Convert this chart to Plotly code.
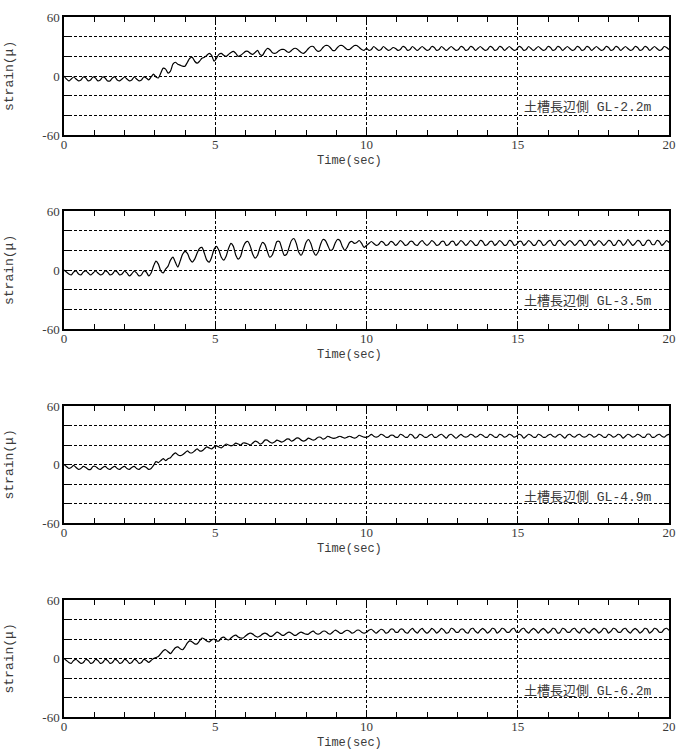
import numpy as np
import plotly.graph_objects as go

# ---------------- data (strain in micro, sampled every 0.08 s from 0 to 20 s) ----------------
dt = 0.08
n_samples = 251
time_sec = np.round(np.arange(n_samples) * dt, 2)

labels = ["土槽長辺側 GL-2.2m", "土槽長辺側 GL-3.5m", "土槽長辺側 GL-4.9m", "土槽長辺側 GL-6.2m"]
x_tick_vals = [0, 5, 10, 15, 20]
x_tick_text = ["0", "5", "10", "15", "20"]
y_tick_vals = [-60, 0, 60]
y_tick_text = ["-60", "0", "60"]

gl22 = (
    [0, -3, -5, -3, -1, -3, -5, -4, -1, -2, -5, -4, -1, -2, -5, -4, -1, -2, -5, -5, -2, -1, -4, -5, -3]
    + [-1, -3, -5, -4, -1, -3, -5, -4, -1, -2, -4, -1, 2, -1, -2, 3, 8, 7, 3, 5, 12, 14, 12, 11, 10]
    + [10, 14, 18, 19, 15, 13, 15, 18, 19, 21, 23, 21, 15, 18, 22, 23, 21, 20, 22, 24, 25, 23, 20, 21, 23]
    + [25, 25, 23, 22, 24, 26, 22, 21, 25, 28, 27, 24, 23, 24, 26, 27, 27, 25, 24, 26, 28, 28, 26, 24, 23]
    + [25, 28, 30, 30, 27, 25, 26, 29, 31, 31, 29, 26, 26, 29, 31, 31, 29, 27, 27, 29, 31, 31, 29, 27, 26]
    + [28, 26, 27, 30, 28, 26, 27, 30, 28, 26, 27, 29, 28, 26, 27, 30, 29, 26, 27, 30, 28, 26, 28, 30, 28]
    + [26, 27, 30, 29, 26, 27, 30, 28, 26, 28, 30, 28, 26, 27, 30, 29, 26, 27, 30, 29, 26, 28, 30, 28, 26]
    + [27, 30, 29, 26, 27, 30, 29, 26, 28, 30, 28, 26, 27, 30, 29, 26, 27, 30, 28, 26, 28, 30, 28, 26, 27]
    + [30, 29, 26, 27, 30, 29, 26, 28, 30, 28, 26, 27, 30, 29, 26, 27, 30, 29, 26, 28, 30, 28, 26, 27, 30]
    + [29, 26, 27, 30, 29, 26, 28, 30, 28, 26, 27, 30, 29, 26, 27, 30, 29, 26, 28, 30, 28, 26, 27, 30, 29]
    + [27]
)

gl35 = (
    [0, -2, -4, -5, -2, -1, -4, -5, -2, -1, -3, -5, -3, -1, -3, -5, -4, -1, -2, -5, -4, -1, -2, -5, -4]
    + [-1, -3, -6, -4, -1, -3, -6, -5, -1, -2, -6, -3, 4, 9, 6, -1, -3, 1, 4, 10, 13, 8, 3, 9, 16]
    + [19, 17, 11, 8, 11, 17, 22, 23, 17, 10, 8, 13, 21, 24, 20, 13, 10, 14, 22, 27, 24, 15, 11, 14, 23]
    + [28, 29, 24, 16, 12, 15, 23, 28, 26, 19, 13, 15, 22, 29, 29, 22, 15, 16, 23, 30, 32, 27, 18, 15, 20]
    + [28, 31, 27, 19, 15, 18, 26, 31, 30, 25, 20, 21, 27, 31, 30, 24, 20, 23, 28, 29, 27, 28, 30, 27, 23]
    + [25, 27, 29, 27, 25, 26, 29, 28, 25, 26, 29, 28, 25, 27, 30, 28, 25, 26, 29, 29, 26, 25, 28, 30, 27]
    + [25, 27, 30, 28, 25, 26, 29, 29, 25, 26, 29, 29, 25, 27, 30, 28, 25, 27, 30, 28, 25, 26, 30, 29, 25]
    + [26, 29, 29, 25, 27, 30, 28, 25, 26, 30, 29, 25, 26, 29, 29, 25, 27, 30, 28, 25, 26, 30, 29, 25, 26]
    + [29, 30, 26, 25, 29, 30, 27, 25, 28, 30, 28, 25, 27, 30, 29, 25, 26, 30, 29, 25, 27, 30, 28, 25, 27]
    + [30, 29, 25, 26, 30, 29, 25, 27, 31, 28, 25, 27, 30, 29, 25, 26, 30, 30, 26, 26, 30, 29, 25, 27, 30]
    + [28]
)

gl49 = (
    [0, -2, -4, -3, -1, -3, -5, -4, -2, -3, -5, -5, -2, -2, -4, -5, -3, -2, -4, -5, -3, -2, -4, -5, -3]
    + [-2, -4, -5, -3, -2, -4, -5, -3, -2, -3, -5, -4, -1, 3, 2, 4, 6, 4, 6, 7, 10, 12, 10, 9, 10]
    + [12, 14, 12, 12, 14, 16, 14, 14, 16, 18, 17, 16, 18, 19, 18, 17, 19, 21, 20, 19, 20, 22, 21, 20, 22]
    + [22, 21, 20, 22, 24, 23, 21, 22, 25, 25, 23, 22, 23, 25, 24, 23, 24, 26, 26, 24, 25, 27, 27, 25, 24]
    + [25, 27, 26, 25, 26, 28, 28, 26, 27, 29, 28, 27, 27, 28, 29, 28, 27, 28, 29, 28, 27, 28, 30, 29, 28]
    + [28, 29, 31, 29, 28, 29, 31, 30, 28, 28, 30, 30, 28, 28, 31, 30, 28, 28, 31, 30, 27, 28, 31, 30, 28]
    + [28, 30, 31, 28, 28, 30, 31, 29, 27, 30, 31, 29, 27, 29, 31, 29, 28, 29, 31, 30, 28, 29, 31, 30, 28]
    + [28, 31, 30, 28, 28, 31, 30, 28, 29, 31, 30, 28, 29, 31, 30, 27, 29, 31, 30, 28, 28, 31, 30, 28, 28]
    + [30, 31, 29, 28, 30, 31, 29, 27, 30, 31, 29, 28, 30, 31, 29, 28, 29, 31, 30, 28, 29, 31, 30, 28, 28]
    + [31, 30, 28, 29, 31, 30, 27, 29, 31, 30, 28, 29, 31, 30, 28, 28, 31, 31, 28, 28, 30, 31, 29, 28, 30]
    + [31]
)

gl62 = (
    [0, -2, -4, -5, -2, -1, -3, -5, -4, -1, -2, -5, -4, -1, -2, -5, -4, -1, -2, -5, -4, -1, -2, -5, -4]
    + [-1, -2, -5, -4, -1, -2, -5, -4, -1, -2, -4, -2, 0, 1, 2, 5, 8, 9, 7, 5, 8, 11, 12, 10, 9]
    + [12, 16, 18, 17, 15, 15, 18, 21, 20, 18, 17, 19, 20, 18, 18, 21, 22, 20, 19, 21, 23, 24, 22, 21, 21]
    + [23, 25, 26, 25, 23, 22, 23, 25, 26, 25, 23, 23, 25, 27, 26, 24, 24, 26, 27, 26, 24, 24, 26, 27, 26]
    + [25, 25, 27, 28, 26, 25, 26, 28, 28, 26, 25, 27, 29, 28, 26, 26, 28, 29, 28, 26, 27, 29, 29, 27, 26]
    + [27, 29, 30, 28, 26, 28, 30, 29, 26, 27, 30, 30, 27, 27, 30, 30, 27, 26, 29, 31, 28, 26, 29, 31, 28]
    + [26, 28, 31, 29, 26, 28, 31, 29, 26, 27, 31, 30, 27, 27, 30, 30, 27, 26, 30, 31, 28, 26, 29, 31, 29]
    + [26, 28, 31, 30, 26, 28, 31, 30, 27, 27, 30, 31, 27, 27, 30, 31, 28, 26, 29, 31, 29, 26, 29, 31, 29]
    + [26, 28, 31, 30, 26, 27, 31, 30, 27, 27, 30, 31, 28, 26, 30, 31, 28, 26, 29, 31, 29, 26, 28, 31, 30]
    + [26, 28, 31, 30, 27, 27, 30, 31, 28, 26, 29, 31, 29, 26, 28, 31, 30, 26, 28, 31, 30, 27, 27, 30, 31]
    + [29]
)

series = [gl22, gl35, gl49, gl62]
for s in series:
    assert len(s) == n_samples, len(s)

# ---------------- layout ----------------
W, H = 685, 754
x_left, x_right = 64, 669
panel_px = [(17, 135), (211, 329), (406, 523), (600, 717)]

TXT = "#3a3a3a"
SERIF = "Liberation Serif, DejaVu Serif, serif"
MONO = "Liberation Mono, Noto Sans CJK JP, monospace"
GRID_DASH = "3px,2px"

fig = go.Figure()
annotations = []
layout = dict(
    template="none",
    width=W, height=H,
    margin=dict(l=0, r=0, t=0, b=0),
    paper_bgcolor="white", plot_bgcolor="white",
    showlegend=False,
    font=dict(family=SERIF, color=TXT),
)

n = len(series)
for k, (vals, lab, (top, bot)) in enumerate(zip(series, labels, panel_px)):
    idx = "" if k == 0 else str(k + 1)
    xa, ya = "x" + idx, "y" + idx
    midx = str(n + k + 1)  # mirror axes indices
    xm, ym = "x" + midx, "y" + midx
    xdom = [x_left / W, x_right / W]
    ydom = [1 - bot / H, 1 - top / H]
    fig.add_trace(go.Scatter(
        x=time_sec, y=vals, mode="lines", xaxis=xa, yaxis=ya,
        line=dict(color="black", width=1.2, shape="spline", smoothing=0.7),
        hoverinfo="skip",
    ))
    # empty traces so the mirrored tick axes (top / right) are drawn
    fig.add_trace(go.Scatter(x=[], y=[], xaxis=xm, yaxis=ya, mode="lines",
                             hoverinfo="skip", showlegend=False))
    fig.add_trace(go.Scatter(x=[], y=[], xaxis=xa, yaxis=ym, mode="lines",
                             hoverinfo="skip", showlegend=False))
    layout["xaxis" + idx] = dict(
        domain=xdom, anchor=ya,
        range=[0, 20], tickvals=x_tick_vals, ticktext=x_tick_text,
        ticks="inside", ticklen=5, tickcolor="black", tickwidth=1,
        showline=True, linecolor="black", linewidth=1.5, mirror=True,
        showgrid=True, gridcolor="black", gridwidth=1, griddash=GRID_DASH,
        minor=dict(dtick=1, tick0=0, ticks="inside", ticklen=5, tickcolor="black",
                   showgrid=False),
        tickfont=dict(family=SERIF, size=13, color=TXT),
        ticklabelstandoff=-3,
        zeroline=False, fixedrange=True,
    )
    layout["yaxis" + idx] = dict(
        domain=ydom, anchor=xa,
        range=[-60, 60], tickvals=y_tick_vals, ticktext=y_tick_text,
        ticks="inside", ticklen=5, tickcolor="black", tickwidth=1,
        showline=True, linecolor="black", linewidth=1.5, mirror=True,
        showgrid=True, gridcolor="black", gridwidth=1, griddash=GRID_DASH,
        minor=dict(dtick=20, tick0=0, ticks="inside", ticklen=5, tickcolor="black",
                   showgrid=True, gridcolor="black", gridwidth=1, griddash=GRID_DASH),
        tickfont=dict(family=SERIF, size=13, color=TXT),
        zeroline=False, fixedrange=True,
    )
    layout["xaxis" + midx] = dict(
        domain=xdom, anchor=ya, overlaying=xa, side="top",
        range=[0, 20], tickvals=x_tick_vals, showticklabels=False,
        ticks="inside", ticklen=5, tickcolor="black", tickwidth=1,
        minor=dict(dtick=1, tick0=0, ticks="inside", ticklen=5, tickcolor="black", showgrid=False),
        showline=False, showgrid=False, zeroline=False, fixedrange=True,
    )
    layout["yaxis" + midx] = dict(
        domain=ydom, anchor=xa, overlaying=ya, side="right",
        range=[-60, 60], tickvals=y_tick_vals, showticklabels=False,
        ticks="inside", ticklen=5, tickcolor="black", tickwidth=1,
        minor=dict(dtick=20, tick0=0, ticks="inside", ticklen=5, tickcolor="black", showgrid=False),
        showline=False, showgrid=False, zeroline=False, fixedrange=True,
    )
    ph = bot - top
    annotations.append(dict(
        text=lab, xref=xa + " domain", yref=ya + " domain",
        x=(522 - x_left) / (x_right - x_left), y=(ph - 91) / ph,
        xanchor="left", yanchor="middle", showarrow=False,
        font=dict(family=MONO, size=13, color=TXT),
    ))
    annotations.append(dict(
        text="Time(sec)", xref="paper", yref=ya + " domain",
        x=349.5 / W, y=-26 / ph, xanchor="center", yanchor="middle", showarrow=False,
        font=dict(family=MONO, size=12, color=TXT),
    ))
    annotations.append(dict(
        text="strain(μ)", xref="paper", yref=ya + " domain",
        x=9 / W, y=0.5, xanchor="center", yanchor="middle", showarrow=False,
        textangle=-90, font=dict(family=MONO, size=13, color=TXT),
    ))

layout["annotations"] = annotations
fig.update_layout(**layout)
fig.write_html("out.html")
